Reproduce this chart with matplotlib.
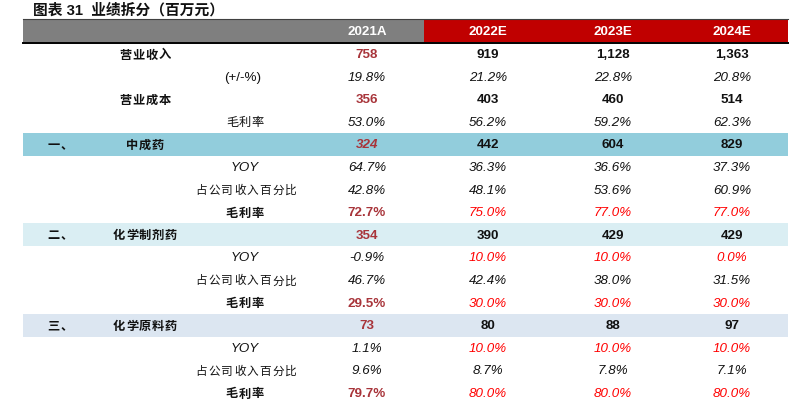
import matplotlib
matplotlib.use("Agg")
import matplotlib.pyplot as plt
from matplotlib.patches import Rectangle

plt.rcParams['font.family'] = ['Liberation Sans', 'Noto Sans CJK SC', 'DejaVu Sans']

title = "图表 31  业绩拆分（百万元）"
years = ["2021A", "2022E", "2023E", "2024E"]

revenue = [758, 919, 1128, 1363]
revenue_growth = [19.8, 21.2, 22.8, 20.8]
cost = [356, 403, 460, 514]
gross_margin = [53.0, 56.2, 59.2, 62.3]

tcm_rev = [324, 442, 604, 829]
tcm_yoy = [64.7, 36.3, 36.6, 37.3]
tcm_share = [42.8, 48.1, 53.6, 60.9]
tcm_gm = [72.7, 75.0, 77.0, 77.0]

chem_rev = [354, 390, 429, 429]
chem_yoy = [-0.9, 10.0, 10.0, 0.0]
chem_share = [46.7, 42.4, 38.0, 31.5]
chem_gm = [29.5, 30.0, 30.0, 30.0]

api_rev = [73, 80, 88, 97]
api_yoy = [1.1, 10.0, 10.0, 10.0]
api_share = [9.6, 8.7, 7.8, 7.1]
api_gm = [79.7, 80.0, 80.0, 80.0]

segments = ["中成药", "化学制剂药", "化学原料药"]
seg_nums = ["一、", "二、", "三、"]

W, H = 800, 406
fig = plt.figure(figsize=(W / 100, H / 100), dpi=100)
ax = fig.add_axes([0, 0, 1, 1])
ax.set_xlim(0, W)
ax.set_ylim(H, 0)
ax.axis('off')

BROWN = '#a8343a'
RED = '#ff0000'
BLACK = '#111111'
CJK = ['Noto Sans CJK SC', 'DejaVu Sans']
FS = 9.6
CFS = 8.8

left, right = 23, 788
col_x = [367, 488, 613, 732]

# title
ax.text(33, 10, title, fontsize=10.6, fontweight='bold', va='center', ha='left',
        family=['Liberation Sans', 'Noto Sans CJK SC'], color='#111111')

# header
ax.add_patch(Rectangle((left, 20), 424 - left, 23, color='#7f7f7f', lw=0))
ax.add_patch(Rectangle((424, 20), right - 424, 23, color='#c00000', lw=0))
ax.plot([left, right], [20, 20], color='#404040', lw=0.8)
ax.plot([left, right], [43.5, 43.5], color='#000000', lw=1.4)
for x, y in zip(col_x, years):
    ax.text(x, 32, y, color='white', fontsize=FS, fontweight='bold', ha='center', va='center')

row_y = [55 + 22.6 * i for i in range(16)]
band_colors = ['#92cddc', '#daeef3', '#dce6f1']


def fmt_num(v):
    return f"{v:,}"


def fmt_pct(v):
    return f"{v:.1f}%"


def spaced(text, cx, y, step, **kw):
    n = len(text)
    x0 = cx - step * (n - 1) / 2
    for i, ch in enumerate(text):
        ax.text(x0 + i * step, y, ch, ha='center', va='center', family=CJK, **kw)


def value_row(y, vals, kind, first_style, rest_style):
    for i, (x, v) in enumerate(zip(col_x, vals)):
        s = fmt_num(v) if kind == 'num' else fmt_pct(v)
        st = first_style if i == 0 else rest_style
        color, weight, style = st
        ax.text(x, y, s, ha='center', va='center', fontsize=FS, color=color,
                fontweight=weight, fontstyle=style)


# top block
spaced("营业收入", 145, row_y[0], 13, fontsize=CFS, fontweight='bold', color=BLACK)
value_row(row_y[0], revenue, 'num', (BROWN, 'bold', 'normal'), (BLACK, 'bold', 'normal'))
ax.text(243, row_y[1], "(+/-%)", ha='center', va='center', fontsize=FS, color=BLACK)
value_row(row_y[1], revenue_growth, 'pct', (BLACK, 'normal', 'italic'), (BLACK, 'normal', 'italic'))
spaced("营业成本", 145, row_y[2], 13, fontsize=CFS, fontweight='bold', color=BLACK)
value_row(row_y[2], cost, 'num', (BROWN, 'bold', 'normal'), (BLACK, 'bold', 'normal'))
spaced("毛利率", 245, row_y[3], 13, fontsize=CFS, color=BLACK)
value_row(row_y[3], gross_margin, 'pct', (BLACK, 'normal', 'italic'), (BLACK, 'normal', 'italic'))

seg_data = [
    (tcm_rev, tcm_yoy, tcm_share, tcm_gm),
    (chem_rev, chem_yoy, chem_share, chem_gm),
    (api_rev, api_yoy, api_share, api_gm),
]
yoy_rest = [(BLACK, 'normal', 'italic'), (RED, 'normal', 'italic'), (RED, 'normal', 'italic')]

for k, (rev, yoy, share, gm) in enumerate(seg_data):
    base = 4 + 4 * k
    yb = row_y[base]
    ax.add_patch(Rectangle((left, yb - 11.5), right - left, 23, color=band_colors[k], lw=0))
    spaced(seg_nums[k], 60, yb, 13, fontsize=CFS, fontweight='bold', color=BLACK)
    spaced(segments[k], 145, yb, 13, fontsize=CFS, fontweight='bold', color=BLACK)
    first_rev = (BROWN, 'bold', 'italic' if k == 0 else 'normal')
    value_row(yb, rev, 'num', first_rev, (BLACK, 'bold', 'normal'))

    ax.text(245, row_y[base + 1], "YOY", ha='center', va='center', fontsize=FS,
            fontstyle='italic', color=BLACK)
    value_row(row_y[base + 1], yoy, 'pct', (BLACK, 'normal', 'italic'), yoy_rest[k])

    spaced("占公司收入百分比", 246, row_y[base + 2], 12.8, fontsize=8.4, color=BLACK)
    value_row(row_y[base + 2], share, 'pct', (BLACK, 'normal', 'italic'), (BLACK, 'normal', 'italic'))

    spaced("毛利率", 245, row_y[base + 3], 13, fontsize=CFS, fontweight='bold', color=BLACK)
    value_row(row_y[base + 3], gm, 'pct', (BROWN, 'bold', 'normal'), (RED, 'normal', 'italic'))

fig.savefig("out.png", dpi=100)
